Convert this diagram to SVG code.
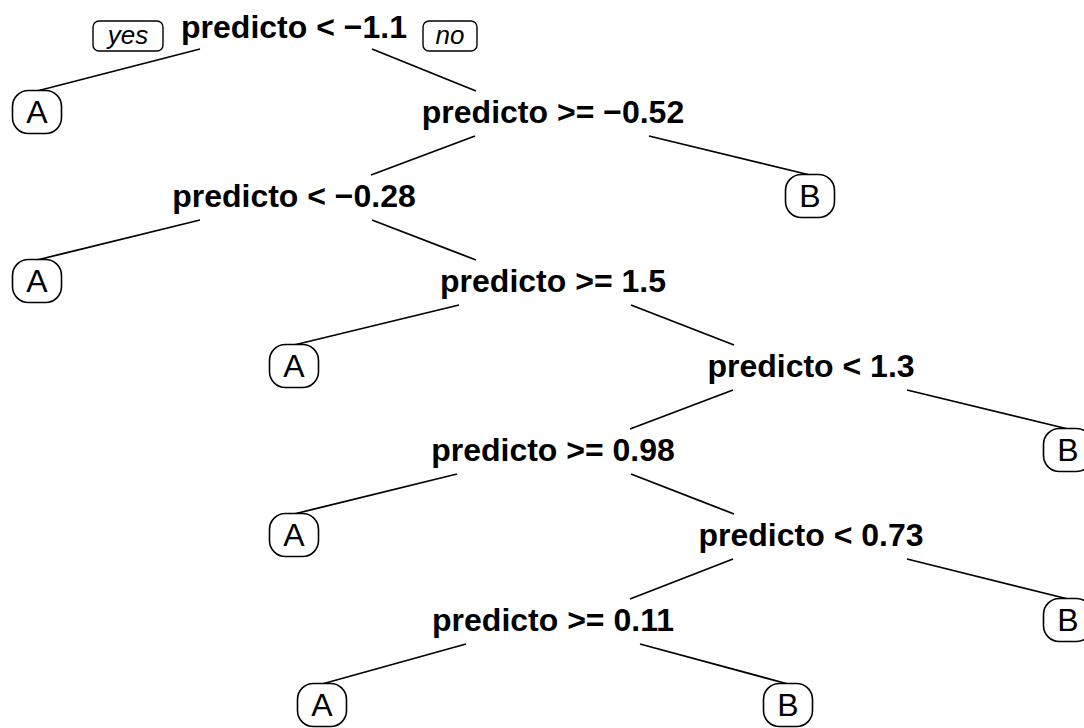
<svg xmlns="http://www.w3.org/2000/svg" width="1084" height="728" viewBox="0 0 1084 728">
  <defs>
    <style>
      .split { font-family: "Liberation Sans", Arial, sans-serif; font-size: 32px; font-weight: bold; fill: #000; text-anchor: middle; }
      .leaf rect { fill: #fff; stroke: #000; stroke-width: 1.6; }
      .leaf text { font-family: "Liberation Sans", Arial, sans-serif; font-size: 32px; fill: #000; text-anchor: middle; }
      .tag rect { fill: #fff; stroke: #000; stroke-width: 1.4; }
      .tag text { font-family: "Liberation Sans", Arial, sans-serif; font-size: 26px; font-style: italic; fill: #000; text-anchor: middle; }
      .edges line { stroke: #000; stroke-width: 1.8; }
    </style>
  </defs>
  <rect width="1084" height="728" fill="#fff"/>

  <!-- branches -->
  <g id="connectors" class="edges">
    <line x1="200" y1="49" x2="37" y2="91"/>
    <line x1="372" y1="49" x2="476" y2="91"/>
    <line x1="475" y1="136" x2="371" y2="175"/>
    <line x1="649" y1="136" x2="810" y2="175"/>
    <line x1="200" y1="220" x2="37" y2="260"/>
    <line x1="372" y1="220" x2="476" y2="260"/>
    <line x1="459" y1="305" x2="294" y2="345"/>
    <line x1="631" y1="305" x2="734" y2="345"/>
    <line x1="733" y1="390" x2="630" y2="429"/>
    <line x1="907" y1="390" x2="1068" y2="429"/>
    <line x1="457" y1="474" x2="294" y2="514"/>
    <line x1="631" y1="474" x2="734" y2="514"/>
    <line x1="733" y1="559" x2="630" y2="599"/>
    <line x1="907" y1="559" x2="1068" y2="599"/>
    <line x1="466" y1="644" x2="322" y2="684"/>
    <line x1="640" y1="644" x2="788" y2="684"/>
  </g>

  <!-- yes / no tags on the root split -->
  <g id="tag-yes" class="tag">
    <rect x="93" y="21" width="70" height="30" rx="6"/>
    <text x="128" y="44">yes</text>
  </g>
  <g id="tag-no" class="tag">
    <rect x="423" y="21" width="54" height="30" rx="6"/>
    <text x="450" y="44">no</text>
  </g>

  <!-- split nodes -->
  <g id="n1"><text class="split" x="294" y="38">predicto &lt; −1.1</text></g>
  <g id="n2"><text class="split" x="553" y="123">predicto &gt;= −0.52</text></g>
  <g id="n3"><text class="split" x="294" y="207">predicto &lt; −0.28</text></g>
  <g id="n4"><text class="split" x="553" y="292">predicto &gt;= 1.5</text></g>
  <g id="n5"><text class="split" x="811" y="377">predicto &lt; 1.3</text></g>
  <g id="n6"><text class="split" x="553" y="461">predicto &gt;= 0.98</text></g>
  <g id="n7"><text class="split" x="811" y="546">predicto &lt; 0.73</text></g>
  <g id="n8"><text class="split" x="553" y="631">predicto &gt;= 0.11</text></g>

  <!-- leaves -->
  <g id="leaf-a1" class="leaf"><rect x="12.5" y="90.5" width="49" height="43" rx="16"/><text x="37" y="123">A</text></g>
  <g id="leaf-b2" class="leaf"><rect x="785.5" y="174.5" width="49" height="43" rx="16"/><text x="810" y="207">B</text></g>
  <g id="leaf-a3" class="leaf"><rect x="12.5" y="259.5" width="49" height="43" rx="16"/><text x="37" y="292">A</text></g>
  <g id="leaf-a4" class="leaf"><rect x="269.5" y="344.5" width="49" height="43" rx="16"/><text x="294" y="377">A</text></g>
  <g id="leaf-b5" class="leaf"><rect x="1043.5" y="428.5" width="49" height="43" rx="16"/><text x="1068" y="461">B</text></g>
  <g id="leaf-a6" class="leaf"><rect x="269.5" y="513.5" width="49" height="43" rx="16"/><text x="294" y="546">A</text></g>
  <g id="leaf-b7" class="leaf"><rect x="1043.5" y="598.5" width="49" height="43" rx="16"/><text x="1068" y="631">B</text></g>
  <g id="leaf-a8" class="leaf"><rect x="297.5" y="683.5" width="49" height="43" rx="16"/><text x="322" y="716">A</text></g>
  <g id="leaf-b8" class="leaf"><rect x="763.5" y="683.5" width="49" height="43" rx="16"/><text x="788" y="716">B</text></g>
</svg>
